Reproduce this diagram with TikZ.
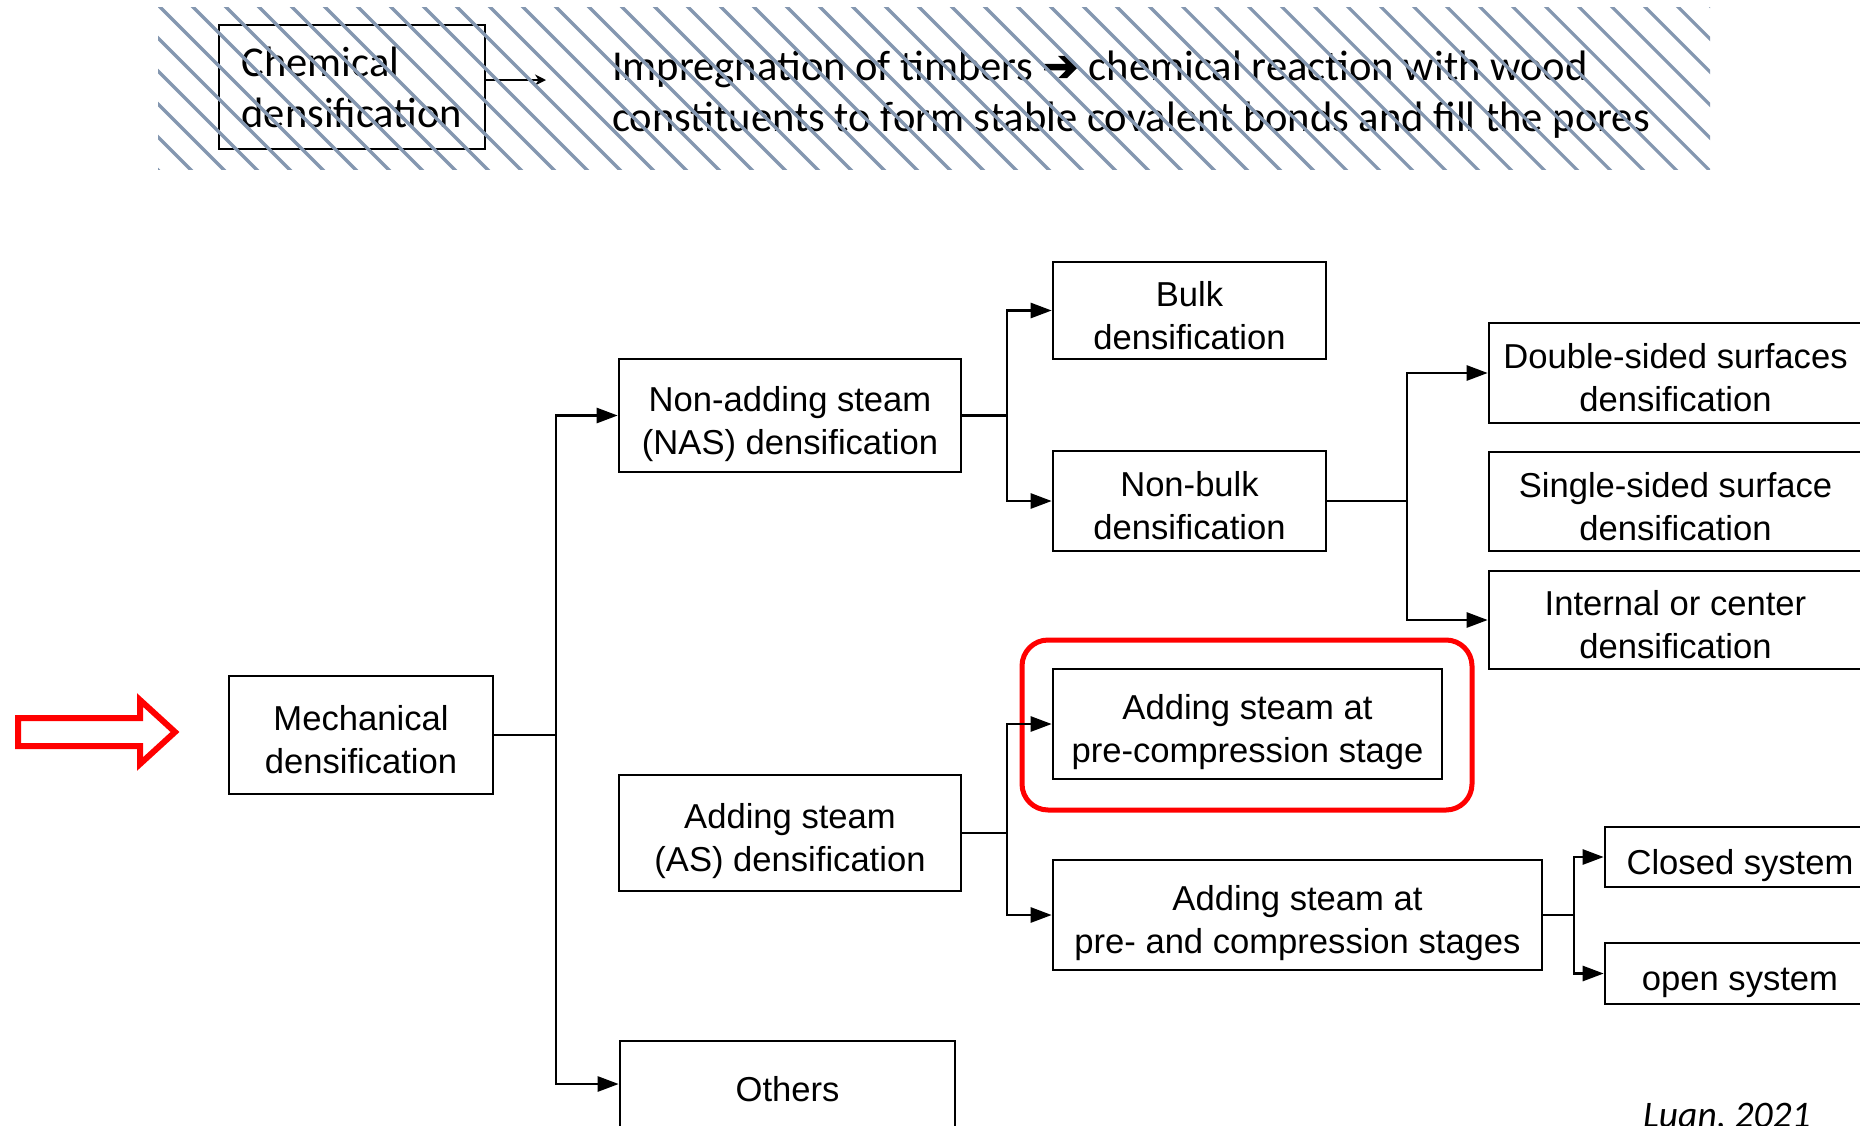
\documentclass[tikz,border=0pt]{standalone}
\usepackage{fontspec}
\setmainfont{Liberation Sans}
\newfontfamily\carl{Carlito}
\newfontfamily\djvb[FakeBold=3]{DejaVu Sans}
\usetikzlibrary{arrows.meta}
\definecolor{hatchc}{HTML}{8497B0}
\definecolor{hlred}{HTML}{FF0000}
\newcommand{\bt}[1]{\raisebox{0pt}[\dimexpr\height+8.5pt\relax][\dimexpr\depth-8.5pt\relax]{\begin{tabular}{@{}c@{}}#1\end{tabular}}}
\begin{document}
\begin{tikzpicture}[x=1pt,y=-1pt,
  box/.style={draw, line width=2.6pt, inner sep=0pt, font=\fontsize{34.6pt}{43pt}\selectfont},
  conn/.style={line width=2.6pt},
  arr/.style={line width=2.6pt, -{Triangle[length=21pt,width=15pt]}},
  hatch/.style={draw=hatchc, line width=3.2pt},
  hl/.style={draw=hlred, line width=5pt, rounded corners=26pt, inner sep=0pt},
]
\fill[white] (0,0) rectangle (1860,1125);
\useasboundingbox (0,0) rectangle (1860,1125);

% ---- top: chemical densification ----
\node[draw, line width=1.8pt, minimum width=266pt, minimum height=124pt, inner sep=0pt, align=left,
      font=\carl\fontsize{42.5pt}{51pt}\selectfont] (chem) at (352,87) {Chemical\\densification};
\coordinate (ce) at (546,80);
\draw[line width=2pt, -{Stealth[length=11pt,width=11pt]}] (chem.east |- ce) -- (ce);
\node[anchor=west, inner sep=0pt, align=left, font=\carl\fontsize{42.6pt}{51pt}\selectfont] (imp) at (612,95)
  {Impregnation of timbers {\djvb\fontsize{44pt}{51pt}\selectfont ➔} chemical reaction with wood\\constituents to form stable covalent bonds and fill the pores};
\begin{scope}
  \clip (158,7) rectangle (1710,169);
  \foreach \i in {0,...,52} {
    \draw[hatch] (-12+\i*33,0) -- ++(180,180);
  }
\end{scope}

% ---- red pointer arrow ----
\draw[hlred, line width=6pt, line join=miter] (18,718) -- (140,718) -- (140,700) -- (175,732) -- (140,764) -- (140,746) -- (18,746) -- cycle;

% ---- main tree ----
\node[box, minimum width=264pt, minimum height=118pt] (mech) at (361,735) {\bt{Mechanical\\densification}};
\node[box, minimum width=342pt, minimum height=113pt] (nas) at (790,415.5) {\bt{Non-adding steam\\(NAS) densification}};
\node[box, minimum width=342pt, minimum height=116pt] (as) at (790,833) {\bt{Adding steam\\(AS) densification}};
\node[box, minimum width=335pt, minimum height=86pt] (others) at (787.5,1084) {\bt{Others}};
\node[box, minimum width=273pt, minimum height=97pt] (bulk) at (1189.5,310.5) {\bt{Bulk\\densification}};
\node[box, minimum width=273pt, minimum height=100pt] (nonbulk) at (1189.5,501) {\bt{Non-bulk\\densification}};
\node[box, minimum width=389pt, minimum height=110pt] (pre) at (1247.5,724) {\bt{Adding steam at\\pre-compression stage}};
\node[box, minimum width=489pt, minimum height=110pt] (preand) at (1297.5,915) {\bt{Adding steam at\\pre- and compression stages}};
\node[box, minimum width=373pt, minimum height=100pt] (double) at (1675.5,373) {\bt{Double-sided surfaces\\densification}};
\node[box, minimum width=373pt, minimum height=99pt] (single) at (1675.5,501.5) {\bt{Single-sided surface\\densification}};
\node[box, minimum width=373pt, minimum height=98pt] (internal) at (1675.5,620) {\bt{Internal or center\\densification}};
\node[box, minimum width=270pt, minimum height=60pt] (closed) at (1740,857) {\bt{Closed system}};
\node[box, minimum width=270pt, minimum height=61pt] (open) at (1740,973.5) {\bt{open system}};

\node[hl, minimum width=450pt, minimum height=170pt] (hlbox) at (1247,725) {};

% junctions
\coordinate (j1) at (556,735);
\coordinate (j2) at (1007,415.5);
\coordinate (j3) at (1407,501);
\coordinate (j4) at (1007,833);
\coordinate (j5) at (1574,915);

\draw[conn] (mech.east) -- (j1);
\draw[arr] (j1) |- (nas.west);
\draw[arr] (j1) |- (others.west);

\draw[conn] (nas.east) -- (j2);
\draw[arr] (j2) |- (bulk.west);
\draw[arr] (j2) |- (nonbulk.west);

\draw[conn] (nonbulk.east) -- (j3);
\draw[arr] (j3) |- (double.west);
\draw[arr] (j3) |- (internal.west);

\draw[conn] (as.east) -- (j4);
\draw[arr] (j4) |- (pre.west);
\draw[arr] (j4) |- (preand.west);

\draw[conn] (preand.east) -- (j5);
\draw[arr] (j5) |- (closed.west);
\draw[arr] (j5) |- (open.west);

\node[anchor=base west, inner sep=0pt, font=\carl\itshape\fontsize{37.5pt}{40pt}\selectfont] (src) at (1643,1127) {Luan, 2021};
\end{tikzpicture}
\end{document}
